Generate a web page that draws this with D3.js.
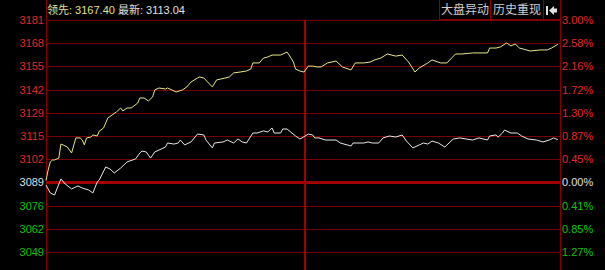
<!DOCTYPE html>
<html>
<head>
<meta charset="utf-8">
<script src="https://cdn.jsdelivr.net/npm/d3@7"></script>
<style>
  html, body { margin: 0; padding: 0; background: #000; }
  svg { display: block; }
  text { font-family: "Liberation Sans", Arial, "Noto Sans CJK SC", sans-serif; }
  .cjk { font-family: "Noto Sans CJK SC", sans-serif; }
</style>
</head>
<body>
<div id="plot"></div>
<script>
// chart size
var width = 605;
var height = 270;

// axis labels (left price, right percent)
var priceTicks = ["3181", "3168", "3155", "3142", "3129", "3115", "3102", "3089", "3076", "3062", "3049"];
var pctTicks = ["3.00%", "2.58%", "2.16%", "1.72%", "1.30%", "0.87%", "0.45%", "0.00%", "0.41%", "0.85%", "1.27%"];
var baseRow = 7; // row of the previous close (3089)

var leadLabel = "领先";
var lastLabel = "最新";
var leadValue = 3167.40;
var lastValue = 3113.04;
var buttons = ["大盘异动", "历史重现"];

// leading index (yellow): minute of session, value
var leadMin = [0, 1, 2, 3, 4, 6, 7, 8, 10, 11, 12, 14, 16, 17, 18, 19, 21, 22, 24, 25, 27, 29, 31, 33, 35, 36, 38, 40, 43, 44,
  46, 48, 50, 51, 53, 56, 57, 59, 61, 64, 66, 68, 71, 72, 74, 78, 80, 84, 86, 88, 91, 94, 96, 97, 100, 102, 104, 106, 110, 113,
  114, 116, 117, 119, 121, 123, 125, 127, 129, 132, 136, 139, 143, 145, 149, 152, 154, 157, 160, 164, 167, 170, 173, 175, 179, 181, 185, 188, 192, 195,
  200, 207, 208, 211, 213, 216, 218, 220, 222, 227, 232, 235, 237, 240];
var leadVal = [3089.8, 3095.7, 3100.3, 3101.4, 3101.4, 3102.5, 3110.5, 3110.0, 3108.8, 3107.1, 3105.4, 3114.0, 3114.0, 3112.8, 3110.0, 3114.0, 3114.5, 3115.7, 3115.1, 3117.9,
  3119.7, 3125.4, 3127.1, 3128.8, 3131.1, 3129.4, 3131.1, 3131.1, 3133.9, 3136.8,
  3136.8, 3135.1, 3137.4, 3141.4, 3142.5, 3141.9, 3142.5, 3141.4, 3140.2, 3141.4, 3143.1, 3145.9, 3148.2, 3148.8, 3148.2, 3143.1, 3147.1, 3148.2, 3148.8, 3151.1,
  3151.6, 3152.2, 3153.3, 3156.8, 3156.8, 3159.6, 3160.2, 3161.3, 3161.3, 3163.0,
  3161.3, 3157.3, 3153.3, 3152.2, 3151.6, 3155.0, 3155.0, 3154.5, 3154.5, 3156.8, 3157.9, 3154.5, 3152.8, 3156.8, 3156.8, 3157.3, 3158.5, 3159.6, 3161.9, 3160.7,
  3161.3, 3157.3, 3151.6, 3153.9, 3156.8, 3158.5, 3156.8, 3156.8, 3161.9, 3161.9,
  3162.5, 3162.5, 3165.3, 3165.3, 3165.9, 3168.2, 3166.5, 3167.6, 3165.3, 3163.6, 3164.2, 3164.2, 3165.3, 3167.4];

// latest index (white)
var lastMin = [0, 2, 4, 7, 9, 12, 15, 17, 20, 22, 24, 25, 28, 30, 32, 35, 38, 42, 44, 45, 47, 49, 51, 53, 56, 57, 60, 62, 63, 65,
  68, 71, 74, 75, 78, 79, 83, 85, 88, 90, 92, 94, 97, 99, 102, 104, 106, 107, 110, 111, 113, 117, 119, 120, 123, 125, 126, 128, 131, 136,
  138, 143, 144, 149, 151, 153, 156, 158, 161, 164, 167, 169, 172, 175, 177, 179, 181, 184, 187, 188, 191, 194, 197, 200, 203, 207, 208, 211, 212, 214,
  215, 218, 221, 223, 226, 230, 233, 236, 238, 240];
var lastVal = [3087.1, 3082.6, 3081.4, 3090.6, 3087.7, 3084.9, 3086.6, 3085.4, 3084.3, 3082.6, 3088.8, 3090.0, 3097.4, 3096.3, 3094.0, 3096.8, 3100.3, 3102.0, 3105.4, 3106.5,
  3106.0, 3102.5, 3106.0, 3107.1, 3108.8, 3111.1, 3110.5, 3111.1, 3112.8, 3110.0,
  3111.7, 3116.2, 3115.7, 3112.8, 3108.3, 3111.1, 3111.7, 3112.8, 3111.1, 3113.4, 3111.7, 3111.1, 3116.8, 3116.8, 3118.0, 3117.4, 3119.7, 3116.8, 3116.8, 3119.1,
  3119.1, 3115.1, 3113.4, 3114.0, 3116.2, 3115.7, 3114.0, 3114.0, 3112.8, 3112.8,
  3111.1, 3109.4, 3111.1, 3111.1, 3111.7, 3111.1, 3111.1, 3114.0, 3115.1, 3114.5, 3115.7, 3112.2, 3108.3, 3110.0, 3111.1, 3110.5, 3112.2, 3111.1, 3108.8, 3110.0,
  3113.4, 3114.0, 3113.4, 3112.8, 3114.0, 3112.8, 3115.1, 3115.7, 3114.5, 3116.8,
  3118.5, 3116.8, 3116.8, 3115.1, 3113.4, 3112.8, 3111.7, 3112.8, 3114.0, 3113.04];

var plotL = 46, plotR = 560, plotT = 20, plotB = 252;

var x = d3.scaleLinear().domain([0, 241]).range([plotL, plotR]);
var y = d3.scaleLinear().domain([3048.9, 3181.3]).range([plotB, plotT]);
var row = d3.scaleLinear().domain([0, priceTicks.length - 1]).range([plotT, plotB]);

var svg = d3.select("div#plot")
  .append("svg")
  .attr("width", width)
  .attr("height", height);

svg.append("rect").attr("width", width).attr("height", height).attr("fill", "#000");

function rowColor(i, mid) {
  if (i < baseRow) return "#e02828";
  if (i == baseRow) return mid;
  return "#10c010";
}

// horizontal grid
svg.selectAll("line.grid")
  .data(priceTicks)
  .enter()
  .append("line")
  .attr("class", "grid")
  .attr("x1", plotL)
  .attr("x2", plotR)
  .attr("y1", (d, i) => Math.round(row(i)) + 0.5)
  .attr("y2", (d, i) => Math.round(row(i)) + 0.5)
  .attr("stroke", (d, i) => i == baseRow ? "#a00000" : "#7a0000")
  .attr("stroke-width", (d, i) => i == baseRow ? 3 : 1);

// vertical lines
svg.append("line")
  .attr("x1", plotL + 0.5).attr("x2", plotL + 0.5)
  .attr("y1", 0).attr("y2", height)
  .attr("stroke", "#880000");
svg.append("line")
  .attr("x1", plotR + 0.5).attr("x2", plotR + 0.5)
  .attr("y1", 0).attr("y2", height)
  .attr("stroke", "#880000");
svg.append("line")
  .attr("x1", Math.round(x(121)) + 1).attr("x2", Math.round(x(121)) + 1)
  .attr("y1", plotT).attr("y2", height)
  .attr("stroke", "#a00000")
  .attr("stroke-width", 2);

// left labels
svg.selectAll("text.lt")
  .data(priceTicks)
  .enter()
  .append("text")
  .attr("class", "lt")
  .attr("x", plotL - 2)
  .attr("y", (d, i) => row(i) + 4)
  .attr("text-anchor", "end")
  .attr("font-size", "11px")
  .attr("fill", (d, i) => rowColor(i, "#d8e4f0"))
  .text(d => d);

// right labels
svg.selectAll("text.rt")
  .data(pctTicks)
  .enter()
  .append("text")
  .attr("class", "rt")
  .attr("x", plotR + 2)
  .attr("y", (d, i) => row(i) + 4)
  .attr("font-size", "11px")
  .attr("fill", (d, i) => rowColor(i, "#e0e0e0"))
  .text(d => d);

// lines
var line = d3.line()
  .x(d => x(d[0]))
  .y(d => y(d[1]));

svg.append("path")
  .datum(d3.zip(leadMin, leadVal))
  .attr("d", line)
  .attr("fill", "none")
  .attr("stroke", "#e8e888")
  .attr("stroke-width", 1);

svg.append("path")
  .datum(d3.zip(lastMin, lastVal))
  .attr("d", line)
  .attr("fill", "none")
  .attr("stroke", "#e8e8e8")
  .attr("stroke-width", 1);

// header
var head = svg.append("text")
  .attr("x", plotL + 1)
  .attr("y", 14)
  .attr("font-size", "11px");
head.append("tspan").attr("fill", "#e0e090").text(leadLabel + ": " + leadValue.toFixed(2));
head.append("tspan").attr("fill", "#e0e0e0").text(" " + lastLabel + ": " + lastValue.toFixed(2));

// buttons
var bx = [439, 490, 543];
buttons.forEach(function(b, i) {
  svg.append("rect")
    .attr("x", bx[i] + 0.5).attr("y", -1)
    .attr("width", bx[i + 1] - bx[i]).attr("height", 20.5)
    .attr("fill", "none").attr("stroke", "#880000");
  svg.append("text")
    .attr("class", "cjk")
    .attr("x", (bx[i] + bx[i + 1]) / 2 + 0.5)
    .attr("y", 14)
    .attr("text-anchor", "middle")
    .attr("font-size", "12px")
    .attr("fill", "#d0d0d0")
    .text(b);
});
svg.append("rect")
  .attr("x", 543.5).attr("y", -1)
  .attr("width", plotR - 543).attr("height", 20.5)
  .attr("fill", "none").attr("stroke", "#880000");
// back icon
svg.append("rect").attr("x", 546).attr("y", 6).attr("width", 2).attr("height", 9).attr("fill", "#e0e0e0");
svg.append("path").attr("d", "M549,10.5 L554,6 L554,8.5 L557,8.5 L557,12.5 L554,12.5 L554,15 Z").attr("fill", "#e0e0e0");
</script>
</body>
</html>
